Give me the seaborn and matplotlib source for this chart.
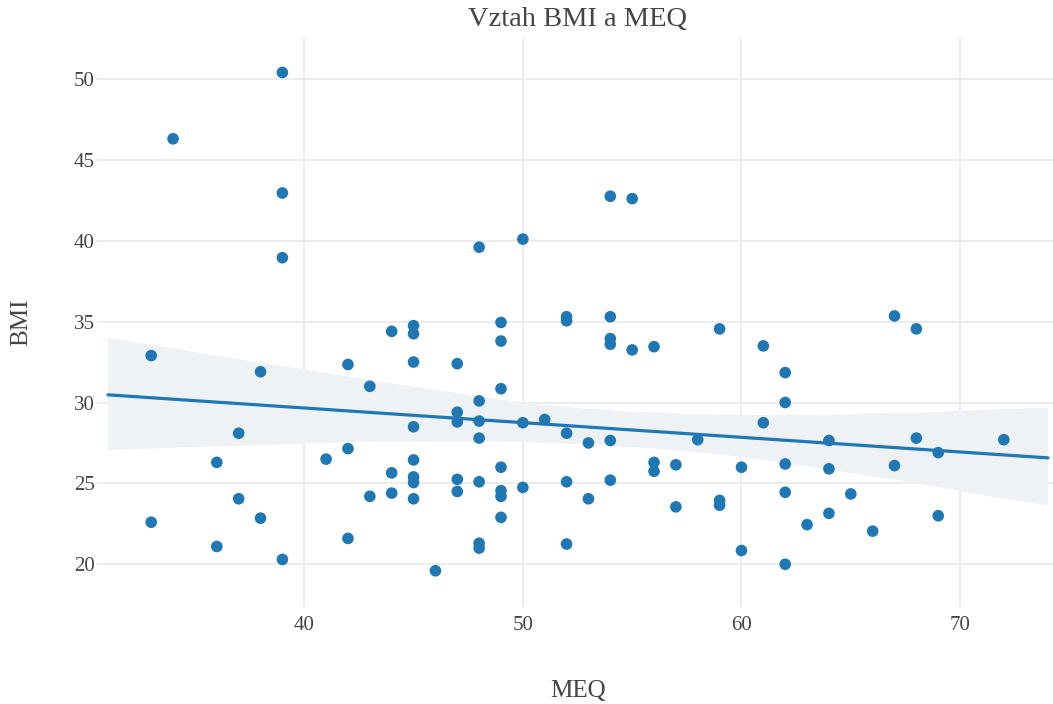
import numpy as np
import pandas as pd
import matplotlib
matplotlib.use("Agg")
import matplotlib.pyplot as plt
import seaborn as sns

# MEQ values (x) and BMI values (y)
meq = [33, 33,
       34,
       36, 36,
       37, 37,
       38, 38,
       39, 39, 39, 39,
       41,
       42, 42, 42,
       43, 43,
       44, 44, 44,
       45, 45, 45, 45, 45, 45, 45, 45,
       46,
       47, 47, 47, 47, 47,
       48, 48, 48, 48, 48, 48, 48,
       49, 49, 49, 49, 49, 49, 49,
       50, 50, 50,
       51,
       52, 52, 52, 52, 52,
       53, 53,
       54, 54, 54, 54, 54, 54,
       55, 55,
       56, 56, 56,
       57, 57,
       58,
       59, 59, 59,
       60, 60,
       61, 61,
       62, 62, 62, 62, 62,
       63,
       64, 64, 64,
       65,
       66,
       67, 67,
       68, 68,
       69, 69,
       72]
bmi = [32.9, 22.6,
       46.3,
       26.3, 21.1,
       28.1, 24.05,
       31.9, 22.85,
       50.4, 42.95, 38.95, 20.3,
       26.5,
       32.35, 27.15, 21.6,
       31.0, 24.2,
       34.4, 25.65, 24.4,
       34.75, 34.25, 32.5, 28.5, 26.45, 25.4, 25.05, 24.05,
       19.6,
       32.4, 29.4, 28.8, 25.25, 24.5,
       39.6, 30.1, 28.85, 27.8, 25.1, 21.3, 21.0,
       34.95, 33.8, 30.85, 26.0, 24.55, 24.2, 22.9,
       40.1, 28.75, 24.75,
       28.95,
       35.3, 35.05, 28.1, 25.1, 21.25,
       27.5, 24.05,
       42.75, 35.3, 33.95, 33.6, 27.65, 25.2,
       42.6, 33.25,
       33.45, 26.3, 25.75,
       26.15, 23.55,
       27.7,
       34.55, 23.95, 23.65,
       26.0, 20.85,
       33.5, 28.75,
       31.85, 30.0, 26.2, 24.45, 20.0,
       22.45,
       27.65, 25.9, 23.15,
       24.35,
       22.05,
       35.35, 26.1,
       34.55, 27.8,
       26.9, 23.0,
       27.7]

x_ticks = [40, 50, 60, 70]
y_ticks = [20, 25, 30, 35, 40, 45, 50]
title = "Vztah BMI a MEQ"
x_label = "MEQ"
y_label = "BMI"

df = pd.DataFrame({"MEQ": meq, "BMI": bmi})

sns.set_theme(style="white")
plt.rcParams["font.family"] = ["Liberation Serif", "DejaVu Serif"]

W, H = 1053, 704
fig = plt.figure(figsize=(W / 100, H / 100), dpi=100)
L, R, T, B = 97, 1053, 38, 607
ax = fig.add_axes([L / W, 1 - B / H, (R - L) / W, (B - T) / H])

blue = "#1f77b4"
ax.set_xlim(31.02, 74.02)
sns.regplot(data=df, x="MEQ", y="BMI", ax=ax, scatter=False, truncate=False,
            ci=95, n_boot=1000, seed=3, color=blue,
            line_kws={"linewidth": 2.3})
for coll in ax.collections:
    coll.set_facecolor("#eef2f5")
    coll.set_alpha(1)
    coll.set_edgecolor("none")
for ln in ax.lines:
    ln.set_color(blue)

sns.scatterplot(data=df, x="MEQ", y="BMI", ax=ax, s=70, color=blue,
                edgecolor="none", linewidth=0, zorder=5)

ax.set_xlim(30.52, 74.25)
ax.set_ylim(17.36, 52.53)
ax.set_xticks(x_ticks)
ax.set_yticks(y_ticks)
ax.set_axisbelow(True)
ax.grid(True, color="#ebebeb", linewidth=1.3)
for s in ax.spines.values():
    s.set_visible(False)
ax.tick_params(axis="both", length=0, labelsize=15, labelcolor="#444444")
ax.tick_params(axis="x", pad=6.5)
ax.tick_params(axis="y", pad=1.5)
ax.set_xlabel("")
ax.set_ylabel("")

fig.text(577 / W, 1 - 20 / H, title, ha="center", va="center",
         fontsize=20.5, color="#444444")
fig.text(578 / W, 1 - 691 / H, x_label, ha="center", va="center",
         fontsize=18, color="#444444")
fig.text(21 / W, 1 - 322 / H, y_label, ha="center", va="center",
         rotation=90, fontsize=18, color="#444444")

fig.savefig("out.png", dpi=100, facecolor="white")
